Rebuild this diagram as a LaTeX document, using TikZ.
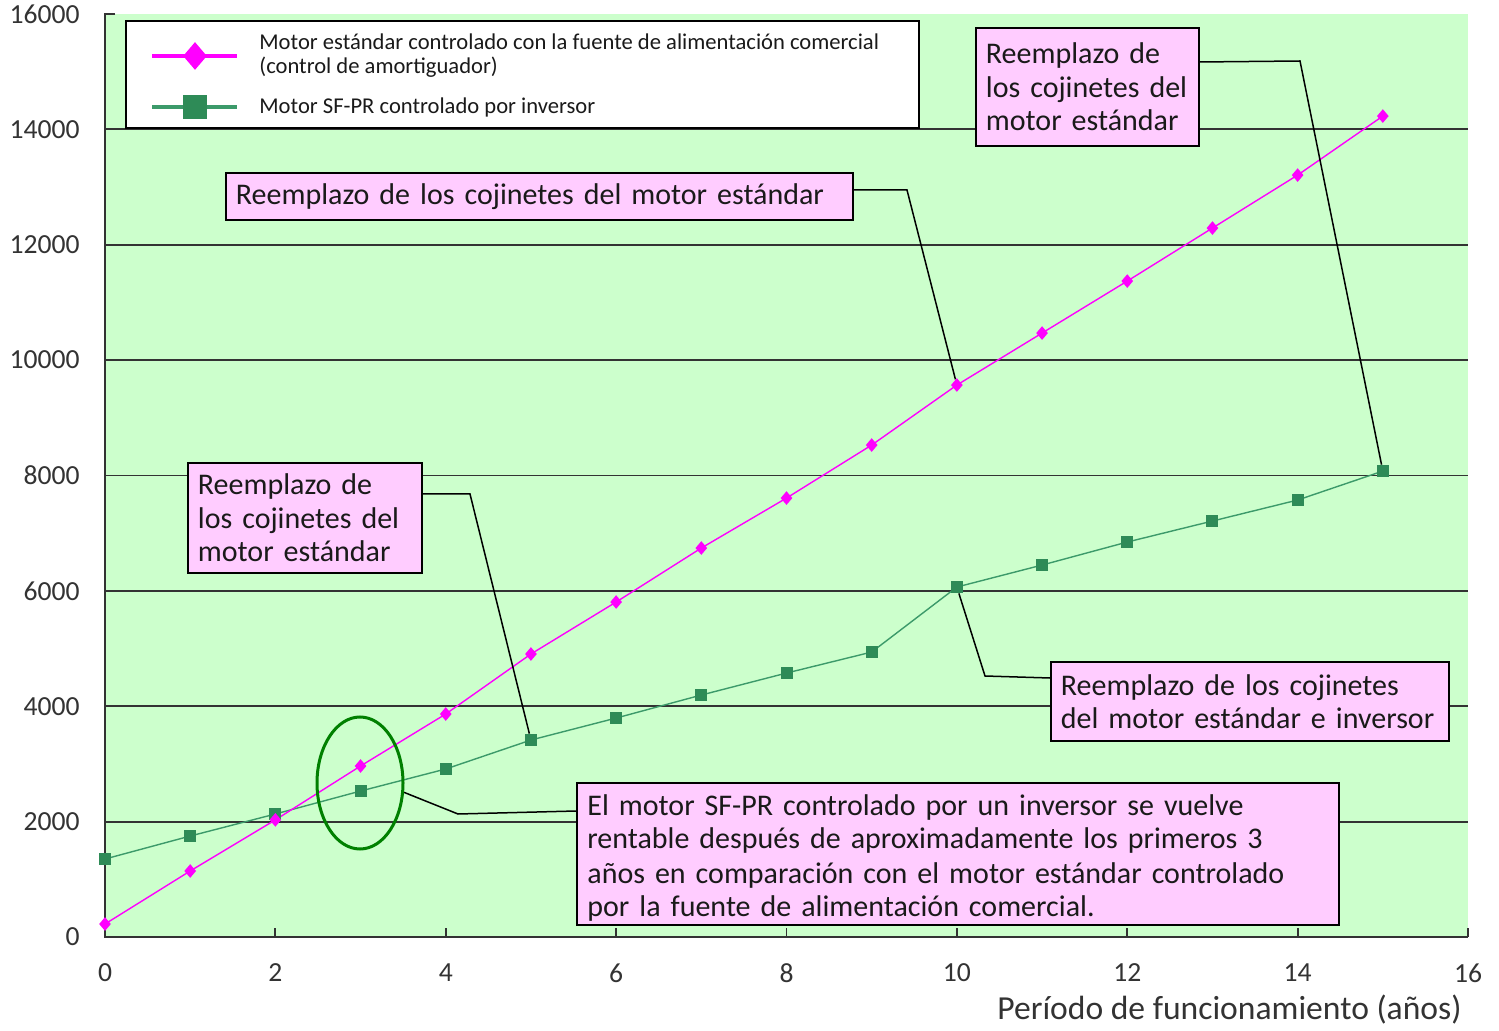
\documentclass[tikz,border=0pt]{standalone}
\usepackage{fontspec}
\setmainfont{Carlito}
\usetikzlibrary{shapes.geometric}
\definecolor{plotbg}{HTML}{CCFFCC}
\definecolor{calloutpink}{HTML}{FFCCFF}
\definecolor{magline}{HTML}{FF00FF}
\definecolor{grnline}{HTML}{3C9A6A}
\definecolor{grnmark}{HTML}{2E8B57}
\definecolor{ringgreen}{HTML}{008000}
\definecolor{txt}{HTML}{1A1A1A}
\definecolor{axcol}{HTML}{333333}
\begin{document}
\begin{tikzpicture}[x=0.5pt,y=-0.5pt,
  gridline/.style={draw=axcol, line width=0.9pt},
  axisline/.style={draw=axcol, line width=0.9pt},
  ticklab/.style={text=axcol, font=\fontsize{13.8}{15}\selectfont, inner sep=0pt},
  mdiam/.style={diamond, fill=magline, draw=none, inner sep=0pt, minimum width=6pt, minimum height=7pt},
  gsq/.style={rectangle, fill=grnmark, draw=none, inner sep=0pt, minimum size=6pt},
  mseries/.style={draw=magline, line width=0.7pt},
  gseries/.style={draw=grnline, line width=0.7pt},
  callout/.style={draw=black, line width=0.9pt, fill=calloutpink, align=left, anchor=north west,
    inner xsep=5pt, inner ysep=0pt, text=txt, font=\fontsize{15}{16.7}\selectfont},
  leader/.style={draw=black, line width=0.75pt},
  legtext/.style={anchor=west, align=left, text=txt, inner sep=0pt, font=\fontsize{11.3}{12}\selectfont}
]
\useasboundingbox (0,0) rectangle (1499,1031);
\fill[white] (0,0) rectangle (1499,1031);
\fill[plotbg] (105,14) rectangle (1468,937);
% grid
\foreach \v in {2000,4000,6000,8000,10000,12000,14000}
  \draw[gridline] (105,{937-\v*0.0577}) -- (1468,{937-\v*0.0577});
% axes
\draw[axisline] (115,14) -- (105,14) -- (105,937) -- (1468,937);
\foreach \X in {2,4,...,16}
  \draw[axisline] ({105+85.1875*\X},937) -- ++(0,-9);
% tick labels
\foreach \v in {0,2000,4000,6000,8000,10000,12000,14000,16000}
  \node[ticklab, anchor=east] (ylab\v) at (80,{937-\v*0.0577}) {\v};
\foreach \X in {0,2,...,16}
  \node[ticklab] (xlab\X) at ({105+85.1875*\X},973) {\X};
\node[anchor=east, text=axcol, inner sep=0pt, font=\fontsize{16.8}{19}\selectfont] (xtitle) at (1462,1010) {Período de funcionamiento (años)};
% series
\foreach \x/\v in {0/225,1/1144,2/2030,3/2964,4/3865,5/4905,6/5806,7/6742,8/7608,9/8527,10/9567,11/10468,12/11369,13/12288,14/13206,15/14229}
  \coordinate (cm\x) at ({105+85.1875*\x},{937-\v*0.0577});
\foreach \x/\v in {0/1352,1/1750,2/2132,3/2530,4/2912,5/3414,6/3795,7/4194,8/4575,9/4939,10/6066,11/6447,12/6846,13/7210,14/7574,15/8076}
  \coordinate (cg\x) at ({105+85.1875*\x},{937-\v*0.0577});
\draw[gseries] (cg0) \foreach \x in {1,...,15} { -- (cg\x) };
\draw[mseries] (cm0) \foreach \x in {1,...,15} { -- (cm\x) };
\foreach \x in {0,...,15} {
  \node[gsq] (g\x) at (cg\x) {};
  \node[mdiam] (m\x) at (cm\x) {};
}
% ring
\node[draw=ringgreen, line width=1.5pt, ellipse, minimum width=43pt, minimum height=66pt, inner sep=0pt] (ring) at (360,783) {};
% legend
\node[draw=black, fill=white, line width=0.9pt, anchor=north west, minimum width=396.5pt, minimum height=53.5pt, inner sep=0pt] (legend) at (125,20) {};
\coordinate (lm1) at (152,56); \coordinate (lm2) at (237,56);
\coordinate (lg1) at (152,107); \coordinate (lg2) at (237,107);
\draw[draw=magline, line width=2pt] (lm1) -- (lm2);
\draw[draw=grnline, line width=2pt] (lg1) -- (lg2);
\node[mdiam, minimum width=12pt, minimum height=14pt] (legm) at (195,56) {};
\node[gsq, minimum size=12pt] (legg) at (195,107) {};
\node[legtext] (legt1) at (259,56) {Motor estándar controlado con la fuente de alimentación comercial\\(control de amortiguador)};
\node[legtext] (legt2) at (259,107) {Motor SF-PR controlado por inversor};
% callouts
\node[callout, minimum width=111.5pt, minimum height=59pt, text width=101.5pt] (cTR) at (975,27) {Reemplazo de\\los cojinetes del\\motor estándar};
\node[callout, minimum width=313.5pt, minimum height=23.5pt, text width=303.5pt] (cMid) at (225,172) {Reemplazo de los cojinetes del motor estándar};
\node[callout, minimum width=117pt, minimum height=55pt, text width=107pt] (cL) at (187,462) {Reemplazo de\\los cojinetes del\\motor estándar};
\node[callout, minimum width=199pt, minimum height=39.5pt, text width=189pt] (cR) at (1050,661) {Reemplazo de los cojinetes\\del motor estándar e inversor};
\node[callout, minimum width=381pt, minimum height=71pt] (cB) at (576,782) {};
\node[align=left, anchor=west, inner sep=0pt, text width=371pt, text=txt, font=\fontsize{15}{17}\selectfont] (cBt) at (587,858) {El motor SF-PR controlado por un inversor se vuelve\\rentable después de aproximadamente los primeros 3\\años en comparación con el motor estándar controlado\\por la fuente de alimentación comercial.};
% leaders
\coordinate (sTR) at (1199,62); \coordinate (kTR) at (1300,61);
\coordinate (sMid) at (853,190); \coordinate (kMid) at (907,190);
\coordinate (sL) at (422,494); \coordinate (kL) at (470,494);
\coordinate (sR) at (1050,678); \coordinate (kR) at (985,676);
\coordinate (sB) at (576,811); \coordinate (kB) at (458,814);
\draw[leader] (sTR) -- (kTR) -- (g15);
\draw[leader] (sMid) -- (kMid) -- (m10);
\draw[leader] (sL) -- (kL) -- (g5);
\draw[leader] (sR) -- (kR) -- (g10);
\draw[leader] (sB) -- (kB) -- (ring.-12);
\end{tikzpicture}
\end{document}
